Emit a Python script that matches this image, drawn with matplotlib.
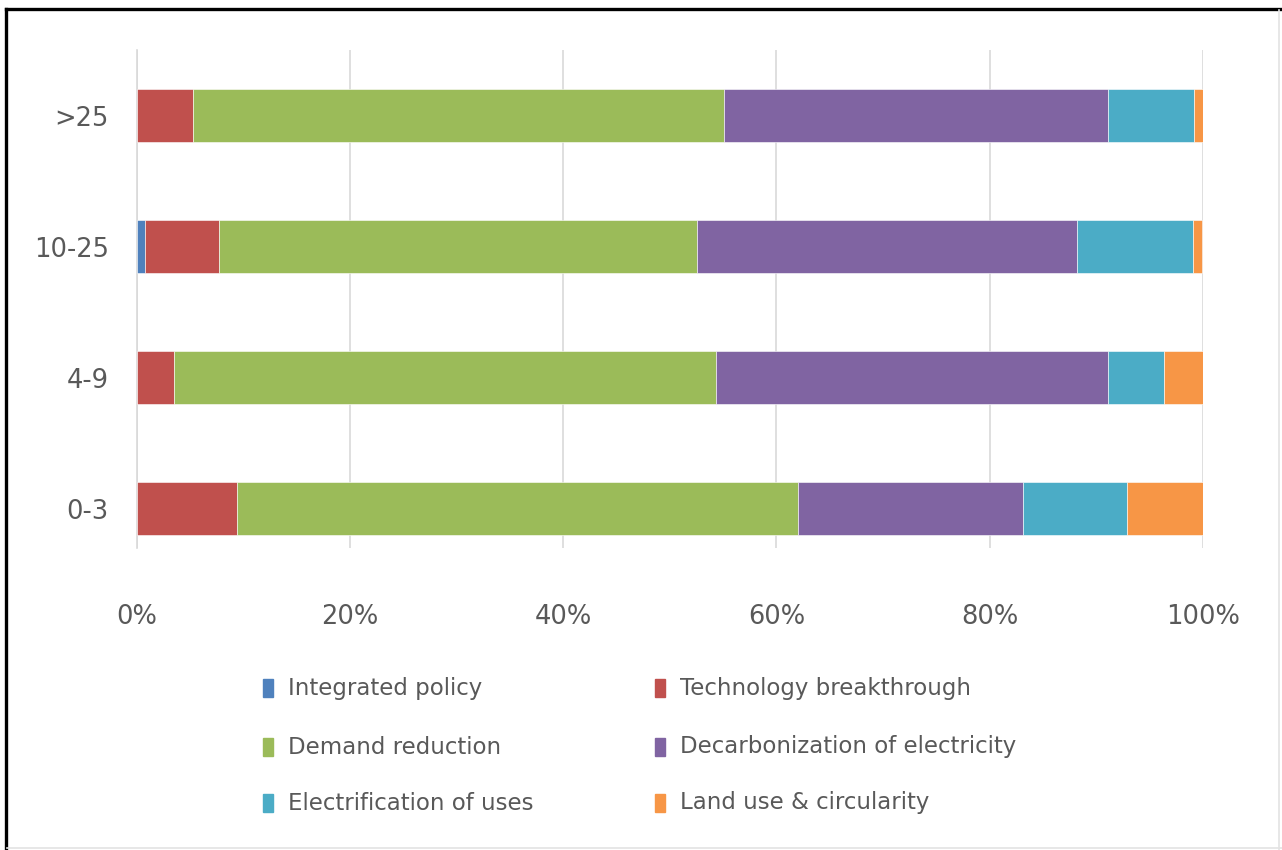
import matplotlib
matplotlib.use("Agg")
import matplotlib.pyplot as plt
from matplotlib.lines import Line2D
from matplotlib.patches import Rectangle
import numpy as np

# Share of each lever (%) per group
groups = ["0-3", "4-9", "10-25", ">25"]
series = [
    "Integrated policy",
    "Technology breakthrough",
    "Demand reduction",
    "Decarbonization of electricity",
    "Electrification of uses",
    "Land use & circularity",
]
integrated_policy = [0.0, 0.0, 0.8, 0.0]
technology_breakthrough = [9.4, 3.5, 6.9, 5.3]
demand_reduction = [52.6, 50.8, 44.9, 49.8]
decarbonization = [21.1, 36.8, 35.6, 36.0]
electrification = [9.8, 5.2, 10.9, 8.1]
land_use = [7.1, 3.7, 0.8, 0.8]
x_ticks = [0, 20, 40, 60, 80, 100]
x_tick_labels = ["0%", "20%", "40%", "60%", "80%", "100%"]

colors = ["#4F81BD", "#C0504D", "#9BBB59", "#8064A2", "#4BACC6", "#F79646"]
text_grey = "#595959"
plt.rcParams["font.family"] = ["DejaVu Sans"]

W, H = 1282, 850
fig = plt.figure(figsize=(W / 100, H / 100), dpi=100)
ax = fig.add_axes([136.5 / W, 1 - 548 / H, (1203 - 136.5) / W, 498 / H])

values = [integrated_policy, technology_breakthrough, demand_reduction,
          decarbonization, electrification, land_use]
y = np.arange(len(groups))
left = np.zeros(len(groups))
for name, vals, c in zip(series, values, colors):
    vals = np.array(vals)
    ax.barh(y, vals, left=left, height=0.4, color=c, edgecolor="white",
            linewidth=0.4, label=name, zorder=3)
    left += vals

ax.set_xlim(0, 100)
ax.set_ylim(-0.3, 3.5)
ax.set_xticks(x_ticks)
ax.set_xticklabels(x_tick_labels)
ax.set_yticks(y)
ax.set_yticklabels(groups)
ax.tick_params(axis="x", length=0, pad=40, labelsize=18.5, labelcolor=text_grey)
ax.tick_params(axis="y", length=0, pad=20, labelsize=18.5, labelcolor=text_grey)
ax.grid(axis="x", color="#D9D9D9", linewidth=1.2, zorder=0)
for side in ["top", "right", "bottom"]:
    ax.spines[side].set_visible(False)
ax.spines["left"].set_color("#D9D9D9")
ax.spines["left"].set_linewidth(1.2)

# legend laid out in two columns, row by row
col_x = [263, 655]
row_y = [688, 747, 803]
for i, (name, c) in enumerate(zip(series, colors)):
    cx = col_x[i % 2]
    ry = row_y[i // 2]
    fig.patches.append(Rectangle((cx / W, 1 - (ry + 9) / H), 10 / W, 18 / H,
                                 transform=fig.transFigure, color=c))
    fig.text((cx + 25) / W, 1 - ry / H, name, fontsize=16.5, color=text_grey,
             va="center", ha="left")

# frame: heavy top/left edge, faint right/bottom edge
fig.add_artist(Line2D([5.5 / W, 1], [1 - 8.5 / H, 1 - 8.5 / H],
                      color="black", linewidth=2.4))
fig.add_artist(Line2D([5.5 / W, 5.5 / W], [0, 1 - 8.5 / H],
                      color="black", linewidth=2.4))
fig.add_artist(Line2D([1279 / W, 1279 / W], [0, 1 - 10 / H],
                      color="#E3E3E3", linewidth=1.2))
fig.add_artist(Line2D([7 / W, 1], [1 - 848 / H, 1 - 848 / H],
                      color="#E3E3E3", linewidth=1.2))

fig.savefig("out.png", dpi=100)
